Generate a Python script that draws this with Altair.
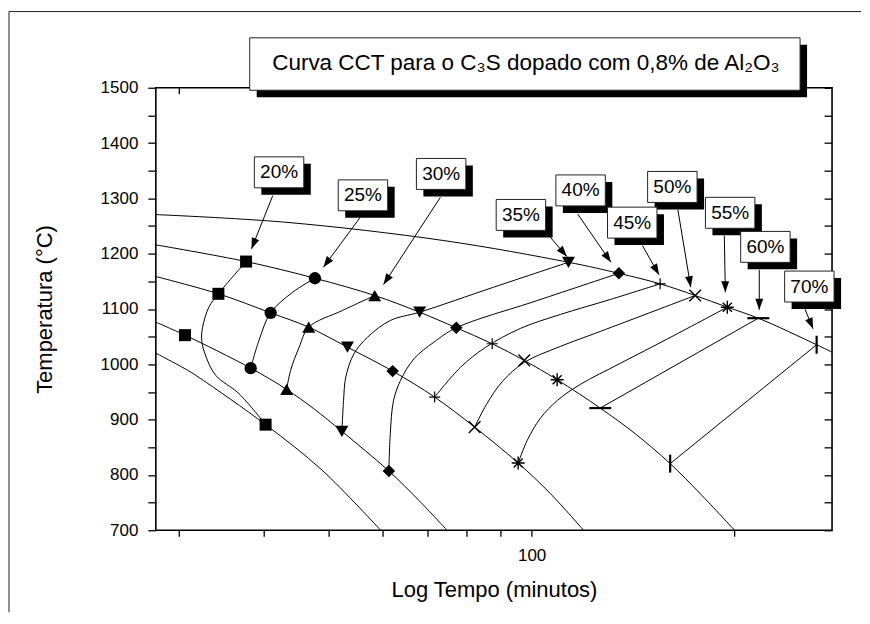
import math
import altair as alt
import pandas as pd

FONT = "Liberation Sans, Arial, Helvetica, sans-serif"

# ---------------- axis ranges / ticks ----------------
X_MIN, X_MAX = 27.7, 279.0
T_MIN, T_MAX = 700, 1500
W, H = 677, 443

x_tick_values = [30, 40, 50, 60, 70, 80, 90, 100, 200]
y_tick_values = [700, 750, 800, 850, 900, 950, 1000, 1050, 1100, 1150,
                 1200, 1250, 1300, 1350, 1400, 1450, 1500]

# ---------------- cooling curves (time, temperature) ----------------
c1_x = [27.7, 43.2, 74.1, 113.4, 134.7, 155.1, 174.8, 195.1, 216.9, 264.7, 279.0]
c1_t = [1270.7, 1256.8, 1223.7, 1184.5, 1164.5, 1145.5, 1124.4, 1103.3, 1083.4, 1035.4, 1022.0]
c2_x = [27.7, 37.7, 47.7, 58.5, 68.2, 77.3, 87.4, 97.5, 109.1, 126.4, 142.4, 160.5, 177.8, 200.0]
c2_t = [1216.0, 1185.8, 1155.6, 1124.4, 1094.2, 1066.0, 1037.2, 1007.0, 972.2, 920.9, 874.6, 820.5, 766.3, 700.0]
c3_x = [27.7, 34.3, 41.0, 46.7, 53.3, 62.2, 71.8, 82.3, 95.5, 106.6, 119.4]
c3_t = [1158.7, 1127.5, 1093.1, 1067.1, 1031.0, 987.7, 940.7, 886.5, 821.5, 766.3, 700.0]
c4_x = [27.7, 30.6, 38.3, 43.3, 47.5, 52.3, 61.4, 68.0, 74.9]
c4_t = [1076.2, 1052.7, 993.1, 954.6, 919.8, 878.8, 807.1, 754.2, 700.0]
c5_x = [27.7, 30.9, 32.3, 40.3, 48.9, 59.7]
c5_t = [1020.2, 989.0, 974.0, 890.9, 808.4, 700.0]

# ---------------- transformation curves ----------------
t20_x = [37.7, 34.3, 33.2, 32.5, 32.4, 32.9, 34.0, 36.8, 40.3]
t20_t = [1185.8, 1127.5, 1103.3, 1067.1, 1043.1, 1013.0, 979.9, 946.9, 890.9]
t25_x = [47.7, 44.2, 41.0, 39.4, 38.3]
t25_t = [1155.6, 1130.3, 1093.1, 1043.1, 993.1]
t30_x = [58.5, 52.4, 46.7, 45.2, 43.9, 43.3]
t30_t = [1124.4, 1097.3, 1067.1, 1031.0, 989.0, 954.6]
t35_x = [113.4, 87.8, 68.2, 61.7, 57.1, 54.5, 53.0, 52.6, 52.3]
t35_t = [1184.5, 1139.4, 1094.2, 1079.2, 1049.1, 1019.1, 976.8, 934.8, 878.8]
t40_x = [134.7, 102.0, 77.3, 71.6, 66.9, 63.9, 62.4, 61.7, 61.4]
t40_t = [1164.5, 1115.4, 1066.0, 1040.0, 1010.0, 970.9, 934.8, 874.6, 807.1]
t45_x = [155.1, 130.8, 110.3, 96.2, 85.4, 78.4, 71.8]
t45_t = [1145.5, 1117.2, 1090.1, 1064.8, 1030.5, 994.4, 940.7]
t50_x = [174.8, 126.4, 110.3, 97.5, 90.5, 85.7, 82.3]
t50_t = [1124.4, 1059.4, 1032.3, 1003.4, 969.1, 927.5, 886.5]
t55_x = [195.1, 160.5, 135.3, 118.1, 109.2, 103.0, 98.5, 95.5]
t55_t = [1103.3, 1048.5, 1001.6, 963.7, 934.8, 902.3, 862.5, 821.5]
t60_x = [216.9, 126.4]
t60_t = [1083.4, 920.9]
t70_x = [264.7, 160.5]
t70_t = [1035.4, 820.5]

# ---------------- markers ----------------
m20_x = [37.7, 34.3, 30.6, 40.3]
m20_t = [1185.8, 1127.5, 1052.7, 890.9]
m25_x = [47.7, 41.0, 38.3]
m25_t = [1155.6, 1093.1, 993.1]
m30_x = [58.5, 46.7, 43.3]
m30_t = [1124.4, 1067.1, 954.6]
m35_x = [113.4, 68.2, 53.3, 52.3]
m35_t = [1184.5, 1094.2, 1031.0, 878.8]
m40_x = [134.7, 77.3, 62.2, 61.4]
m40_t = [1164.5, 1066.0, 987.7, 807.1]
m45_x = [155.1, 87.4, 71.8]
m45_t = [1145.5, 1037.2, 940.7]
m50_x = [174.8, 97.5, 82.3]
m50_t = [1124.4, 1007.0, 886.5]
m55_x = [195.1, 109.1, 95.5]
m55_t = [1103.3, 972.2, 821.5]
m60_x = [216.9, 126.4]
m60_t = [1083.4, 920.9]
m70_x = [264.7, 160.5]
m70_t = [1035.4, 820.5]

# ---------------- labels and arrows ----------------
label_names = ["20%", "25%", "30%", "35%", "40%", "45%", "50%", "55%", "60%", "70%"]
label_x = [42.2, 56.2, 73.4, 96.4, 118.2, 141.0, 161.7, 197.0, 222.2, 258.2]
label_t = [1347.1, 1305.5, 1344.2, 1270.1, 1314.4, 1256.2, 1320.7, 1273.9, 1212.3, 1140.6]

arrow_x0 = [41.3, 55.6, 73.2, 106.6, 117.0, 146.0, 164.8, 193.1, 217.6, 254.4]
arrow_t0 = [1305.0, 1264.7, 1301.9, 1229.7, 1271.9, 1214.7, 1279.2, 1232.7, 1170.8, 1099.6]
arrow_x1 = [38.4, 49.1, 60.3, 112.8, 131.1, 154.5, 172.2, 193.8, 217.6, 261.5]
arrow_t1 = [1208.7, 1175.5, 1144.3, 1194.8, 1184.5, 1161.8, 1139.4, 1130.3, 1098.6, 1064.2]

title_text = "Curva CCT para o C₃S dopado com 0,8% de Al₂O₃"
x_title = "Log Tempo (minutos)"
y_title = "Temperatura (°C)"

# ---------------- symbol shapes ----------------
PLUS = "M-1,0L1,0M0,-1L0,1"
CROSS = "M-0.8,-0.8L0.8,0.8M-0.8,0.8L0.8,-0.8"
STAR = "M-1,0L1,0M0,-1L0,1M-0.7,-0.7L0.7,0.7M-0.7,0.7L0.7,-0.7"
DASH = "M-1,0L1,0"
VBAR = "M0,-1L0,1"
ARROW = "M0,0L-0.36,1L0.36,1Z"
BOX = "M-1,-0.626L1,-0.626L1,0.626L-1,0.626Z"
SH = 0.283
BOX_SHADOW = (f"M{-1+SH},{-0.626+SH}L{1+SH},{-0.626+SH}L{1+SH},{0.626+SH}"
              f"L{-1+SH},{0.626+SH}Z")

# ---------------- build tables ----------------
def curves_df(names, xs_list, ts_list):
    rows = []
    for n, xs, ts in zip(names, xs_list, ts_list):
        for i, (x, t) in enumerate(zip(xs, ts)):
            rows.append({"curve": n, "i": i, "x": x, "t": t})
    return pd.DataFrame(rows)

cool_df = curves_df(["c1", "c2", "c3", "c4", "c5"],
                    [c1_x, c2_x, c3_x, c4_x, c5_x],
                    [c1_t, c2_t, c3_t, c4_t, c5_t])
trans_df = curves_df(label_names,
                     [t20_x, t25_x, t30_x, t35_x, t40_x, t45_x, t50_x, t55_x, t60_x, t70_x],
                     [t20_t, t25_t, t30_t, t35_t, t40_t, t45_t, t50_t, t55_t, t60_t, t70_t])

style = {
    "20%": ("square", 144, True, 1),
    "25%": ("circle", 151, True, 1),
    "30%": ("triangle-up", 169, True, 1),
    "35%": ("triangle-down", 169, True, 1),
    "40%": ("diamond", 156, True, 1),
    "45%": (PLUS, 121, False, 1.2),
    "50%": (CROSS, 215, False, 1.4),
    "55%": (STAR, 169, False, 1.4),
    "60%": (DASH, 484, False, 2.2),
    "70%": (VBAR, 324, False, 2.2),
}
mk_x = [m20_x, m25_x, m30_x, m35_x, m40_x, m45_x, m50_x, m55_x, m60_x, m70_x]
mk_t = [m20_t, m25_t, m30_t, m35_t, m40_t, m45_t, m50_t, m55_t, m60_t, m70_t]
rows = []
for n, xs, ts in zip(label_names, mk_x, mk_t):
    shp, sz, fil, sw = style[n]
    for x, t in zip(xs, ts):
        rows.append({"pct": n, "x": x, "t": t, "shape": shp, "size": sz,
                     "filled": fil, "sw": sw})
marks_df = pd.DataFrame(rows)
filled_df = marks_df[marks_df["filled"]]
stroked_df = marks_df[~marks_df["filled"]]

def px(x):
    return W * (math.log10(x) - math.log10(X_MIN)) / (math.log10(X_MAX) - math.log10(X_MIN))

def py(t):
    return H * (T_MAX - t) / (T_MAX - T_MIN)

arr_rows, head_rows = [], []
for n, x0, t0, x1, t1 in zip(label_names, arrow_x0, arrow_t0, arrow_x1, arrow_t1):
    arr_rows.append({"pct": n, "i": 0, "x": x0, "t": t0})
    arr_rows.append({"pct": n, "i": 1, "x": x1, "t": t1})
    dx, dy = px(x1) - px(x0), py(t1) - py(t0)
    ang = math.degrees(math.atan2(dx, -dy)) % 360
    head_rows.append({"pct": n, "x": x1, "t": t1, "angle": ang})
arrow_df = pd.DataFrame(arr_rows)
head_df = pd.DataFrame(head_rows)
label_df = pd.DataFrame({"pct": label_names, "x": label_x, "t": label_t})
one = pd.DataFrame({"a": [0]})

# ---------------- encodings ----------------
xs = alt.Scale(type="log", domain=[X_MIN, X_MAX], nice=False)
ys = alt.Scale(domain=[T_MIN, T_MAX], nice=False, zero=False)
X = alt.X("x:Q", scale=xs, axis=None)
Y = alt.Y("t:Q", scale=ys, axis=None)

frame_top = alt.Chart(one).mark_rule(color="#222", strokeWidth=1).encode(
    x=alt.value(-147), x2=alt.value(706), y=alt.value(-76.3))
frame_left = alt.Chart(one).mark_rule(color="#222", strokeWidth=1).encode(
    x=alt.value(-147), y=alt.value(-76.3), y2=alt.value(525))

cool = alt.Chart(cool_df).mark_line(color="black", strokeWidth=1,
                                    interpolate="catmull-rom").encode(
    x=X, y=Y, detail="curve:N", order="i:Q")
trans = alt.Chart(trans_df).mark_line(color="black", strokeWidth=1,
                                      interpolate="catmull-rom").encode(
    x=X, y=Y, detail="curve:N", order="i:Q")

filled_pts = alt.Chart(filled_df).mark_point(filled=True, color="black", opacity=1).encode(
    x=X, y=Y, shape=alt.Shape("shape:N", scale=None), size=alt.Size("size:Q", scale=None))
stroked_pts = alt.Chart(stroked_df).mark_point(filled=False, color="black", opacity=1).encode(
    x=X, y=Y, shape=alt.Shape("shape:N", scale=None), size=alt.Size("size:Q", scale=None),
    strokeWidth=alt.StrokeWidth("sw:Q", scale=None))

arrows = alt.Chart(arrow_df).mark_line(color="black", strokeWidth=1).encode(
    x=X, y=Y, detail="pct:N", order="i:Q")
heads = alt.Chart(head_df).mark_point(shape=ARROW, size=484, filled=True,
                                      color="black", opacity=1).encode(
    x=X, y=Y, angle=alt.Angle("angle:Q", scale=None))

shadows = alt.Chart(label_df).mark_point(shape=BOX_SHADOW, size=2450, filled=True,
                                         color="black", opacity=1).encode(x=X, y=Y)
boxes = alt.Chart(label_df).mark_point(shape=BOX, size=2450, filled=True, fill="white",
                                       stroke="#222", strokeWidth=1, opacity=1).encode(x=X, y=Y)
texts = alt.Chart(label_df).mark_text(font=FONT, fontSize=19, color="black",
                                      align="center", baseline="middle").encode(
    x=X, y=Y, text="pct:N")

title_shadow = alt.Chart(one).mark_rect(color="black").encode(
    x=alt.value(101), x2=alt.value(652), y=alt.value(-43), y2=alt.value(9.5))
title_box = alt.Chart(one).mark_rect(fill="white", stroke="#222", strokeWidth=1).encode(
    x=alt.value(94), x2=alt.value(645), y=alt.value(-50), y2=alt.value(2.5))
title_txt = alt.Chart(one).mark_text(font=FONT, fontSize=22.5, color="black",
                                     align="center", baseline="middle").encode(
    x=alt.value(370.5), y=alt.value(-24.5), text=alt.value(title_text))

common_ax = dict(grid=False, domain=False, tickColor="black", tickWidth=1.3,
                 labelColor="black", titleColor="black", labelFont=FONT,
                 titleFont=FONT, titleFontWeight="normal")

axes_a = alt.Chart(marks_df).mark_point(opacity=0).encode(
    x=alt.X("x:Q", scale=xs, axis=alt.Axis(
        orient="bottom", values=x_tick_values, tickSize=6, labelFontSize=17,
        labelExpr="datum.value == 100 ? '100' : ''", labelPadding=11,
        title=x_title, titleFontSize=22, titlePadding=16, **common_ax)),
    y=alt.Y("t:Q", scale=ys, axis=alt.Axis(
        orient="left", values=y_tick_values, tickSize=8, labelFontSize=17, format="d",
        labelExpr="datum.value % 100 == 0 ? datum.label : ''", labelPadding=10,
        title=y_title, titleFontSize=22, titlePadding=44, **common_ax)),
)
axes_b = alt.Chart(marks_df).mark_point(opacity=0).encode(
    x=alt.X("x:Q", scale=xs, axis=alt.Axis(
        orient="top", values=x_tick_values, tickSize=6, offset=-6, labels=False,
        title=None, **common_ax)),
    y=alt.Y("t:Q", scale=ys, axis=alt.Axis(
        orient="right", values=y_tick_values, tickSize=8, offset=-8, labels=False,
        title=None, **common_ax)),
)

chart = alt.layer(
    frame_top, frame_left, cool, trans, filled_pts, stroked_pts, arrows, heads,
    shadows, boxes, texts, title_shadow, title_box, title_txt, axes_a, axes_b
).resolve_axis(x="independent", y="independent").properties(
    width=W, height=H,
    padding={"left": 0, "top": 2.5, "right": 0, "bottom": 0},
).configure_view(stroke="black", strokeWidth=1.6)

chart.save("out.html", embed_options={"renderer": "svg", "actions": False})
